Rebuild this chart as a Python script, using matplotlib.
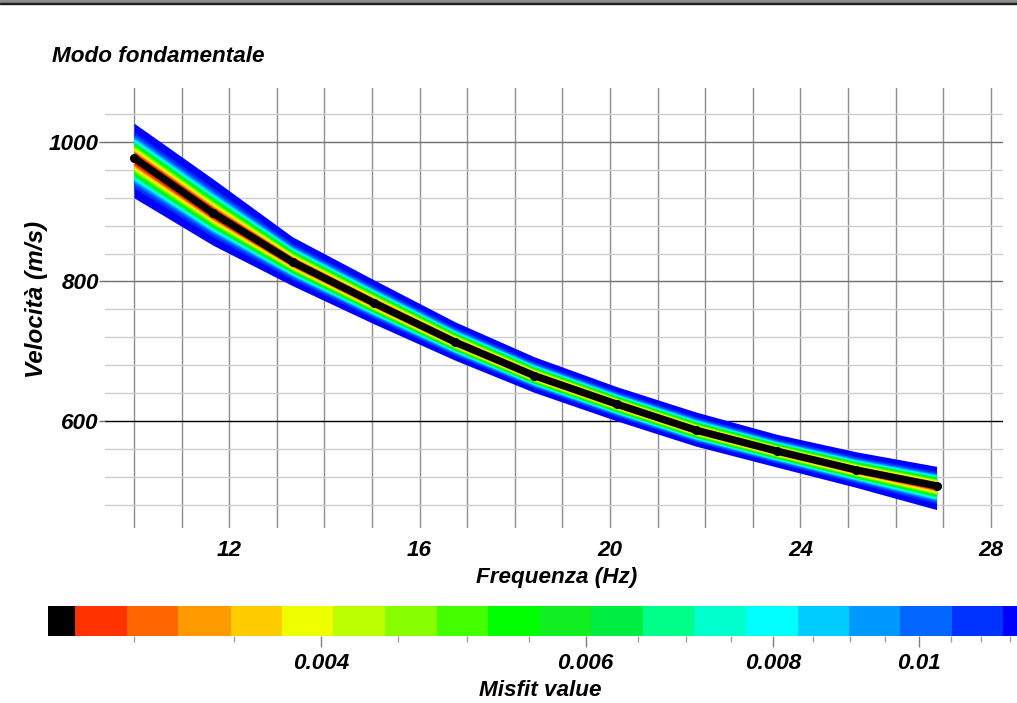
import numpy as np
import matplotlib
matplotlib.use('Agg')
import matplotlib.pyplot as plt
from matplotlib.colors import ListedColormap, BoundaryNorm
from matplotlib.patches import Rectangle

# ---------------- data ----------------
freq = [10.0, 11.66, 13.33, 15.05, 16.75, 18.41, 20.15, 21.8, 23.5, 25.16, 26.86]
vel_best = [977, 898, 828, 769, 713, 665, 624, 587, 557, 530, 507]
vel_upper = [1027, 947, 864, 802, 742, 692, 649, 613, 581, 556, 535]
vel_lower = [920, 852, 794, 739, 687, 641, 600, 564, 534, 505, 473]

misfit_bounds = [0.002631, 0.002743, 0.002971, 0.003212, 0.003484, 0.003767,
                 0.004074, 0.004411, 0.004777, 0.005165, 0.005595, 0.006049,
                 0.006553, 0.007086, 0.007674, 0.008311, 0.008985, 0.009716,
                 0.010522, 0.011378, 0.011626]
misfit_colors = ['#000000', '#FF3300', '#FF6600', '#FF9900', '#FFCC00', '#EEFF00',
                 '#BBFF00', '#88FF00', '#44FF00', '#00FF00', '#11EE22', '#00EE44',
                 '#00FF88', '#00FFCC', '#00FFFF', '#00CCFF', '#0099FF', '#0066FF',
                 '#0033FF', '#0000FF']
# relative half-width of the band occupied by each misfit class (red ... blue)
band_frac = [0.17, 0.19, 0.21, 0.24, 0.27, 0.30, 0.33, 0.36, 0.39, 0.42,
             0.45, 0.48, 0.51, 0.54, 0.57, 0.61, 0.66, 0.75, 1.0]

x_ticks = [12, 16, 20, 24, 28]
y_ticks = [600, 800, 1000]
cb_major = [0.004, 0.006, 0.008, 0.01]
cb_labels = ['0.004', '0.006', '0.008', '0.01']

# ---------------- figure ----------------
W, H = 1017, 703
fig = plt.figure(figsize=(W / 100, H / 100), dpi=100)
FONT = dict(family='Liberation Sans', weight='bold', style='italic')
FS = 16.2

def px_axes(x0, y0, x1, y1):
    return fig.add_axes([x0 / W, 1 - y1 / H, (x1 - x0) / W, (y1 - y0) / H])

# top window border
fig.patches.append(Rectangle((0, 1 - 3 / H), 1, 3 / H, transform=fig.transFigure,
                             color='#8c8c8c', zorder=0))
fig.patches.append(Rectangle((0, 1 - 4 / H), 1, 1 / H, transform=fig.transFigure,
                             color='#202020', zorder=0))

ax = px_axes(105, 88, 1003, 528)
ax.set_xlim(9.391, 28.256)
ax.set_ylim(446.6, 1077.4)
for s in ax.spines.values():
    s.set_visible(False)

# grid
for f in range(10, 29):
    ax.axvline(f, color='#8e8e8e', lw=1.0, zorder=0)
for v in range(480, 1041, 40):
    if v == 600:
        c = '#000000'
    elif v in (800, 1000):
        c = '#707070'
    else:
        c = '#cdcdcd'
    ax.axhline(v, color=c, lw=1.0, zorder=0)

# misfit band
best = np.array(vel_best, dtype=float)
up = np.array(vel_upper, dtype=float)
lo = np.array(vel_lower, dtype=float)
for k in range(len(band_frac) - 1, -1, -1):
    fr = band_frac[k]
    ax.fill_between(freq, best + fr * (up - best), best - fr * (best - lo),
                    color=misfit_colors[k + 1], lw=0, zorder=2)
ax.plot(freq, vel_best, color='black', lw=5.2, zorder=3, solid_capstyle='round')
ax.plot(freq, vel_best, 'o', color='black', ms=5.5, zorder=4)

ax.set_xticks(x_ticks)
ax.set_xticklabels([str(t) for t in x_ticks], fontdict=FONT, fontsize=FS)
ax.set_yticks(y_ticks)
ax.set_yticklabels([str(t) for t in y_ticks], fontdict=FONT, fontsize=FS)
ax.tick_params(axis='x', length=0, pad=9)
ax.tick_params(axis='y', length=4.5, width=1, color='#707070', pad=0)

fig.text(52 / W, 1 - 56 / H, 'Modo fondamentale', fontdict=FONT, fontsize=FS,
         ha='left', va='center')
fig.text(557 / W, 1 - 577 / H, 'Frequenza (Hz)', fontdict=FONT, fontsize=FS,
         ha='center', va='center')
fig.text(37 / W, 1 - 299 / H, 'Velocità (m/s)', fontdict=FONT, fontsize=17.5,
         ha='center', va='center', rotation=90)

# ---------------- colorbar ----------------
cax = px_axes(48, 606, 1017, 636)
cmap = ListedColormap(misfit_colors)
norm = BoundaryNorm(misfit_bounds, cmap.N)
centers = [np.sqrt(misfit_bounds[i] * misfit_bounds[i + 1]) for i in range(len(misfit_colors))]
cax.pcolormesh(misfit_bounds, [0, 1], [centers], cmap=cmap, norm=norm, shading='flat')
cax.set_xscale('log')
cax.set_xlim(misfit_bounds[0], misfit_bounds[-1])
cax.set_ylim(0, 1)
cax.set_yticks([])
for s in cax.spines.values():
    s.set_visible(False)
cax.set_xticks(cb_major)
cax.set_xticklabels(cb_labels, fontdict=FONT, fontsize=FS)
minor = [m / 10000 for m in range(30, 116, 5) if m not in (40, 60, 80, 100)]
cax.set_xticks(minor, minor=True)
cax.xaxis.set_minor_formatter(matplotlib.ticker.NullFormatter())
cax.tick_params(axis='x', which='major', length=8, width=1, color='#808080', pad=4)
cax.tick_params(axis='x', which='minor', length=4, width=1, color='#a0a0a0')
fig.text(540 / W, 1 - 690 / H, 'Misfit value', fontdict=FONT, fontsize=FS,
         ha='center', va='center')

fig.savefig('out.png', dpi=100)
